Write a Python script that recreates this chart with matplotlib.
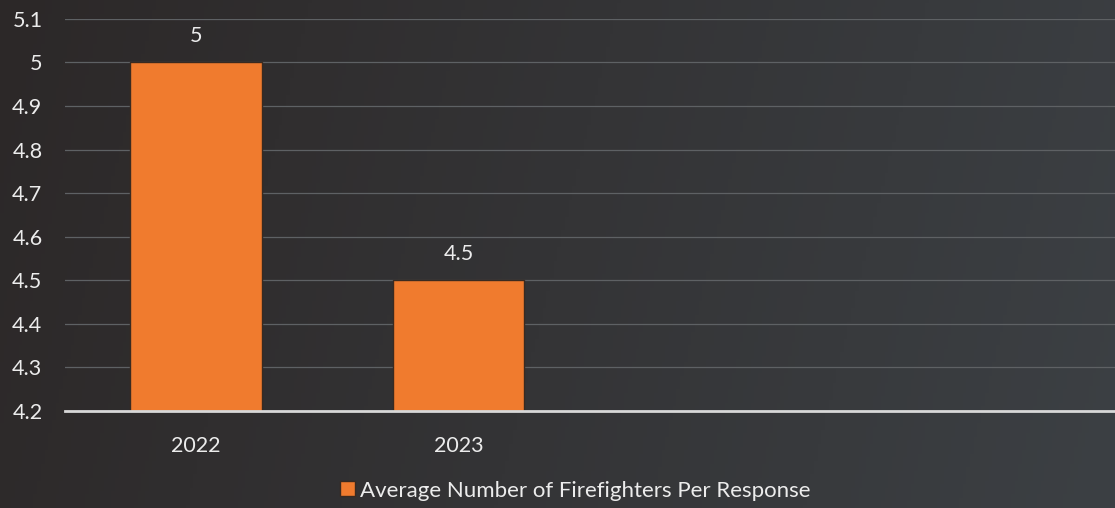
import numpy as np
import matplotlib.pyplot as plt

years = ['2022', '2023']
avg_firefighters = [5, 4.5]
value_labels = ['5', '4.5']
y_ticks = [4.2, 4.3, 4.4, 4.5, 4.6, 4.7, 4.8, 4.9, 5, 5.1]
y_tick_labels = ['4.2', '4.3', '4.4', '4.5', '4.6', '4.7', '4.8', '4.9', '5', '5.1']
series_name = 'Average Number of Firefighters Per Response'

plt.rcParams['font.family'] = ['Lato', 'DejaVu Sans']
text_col = '#ececec'
bar_col = '#f07b2e'

fig = plt.figure(figsize=(11.15, 5.08), dpi=100)

# dark slide background, a bit warmer on the left
bg = fig.add_axes([0, 0, 1, 1])
gx = np.linspace(0, 1, 300)
gy = np.linspace(0, 1, 150)
GX, GY = np.meshgrid(gx, gy)
left = np.array([0x2c, 0x28, 0x28]) / 255.0
right = np.array([0x3c, 0x40, 0x44]) / 255.0
t = np.clip(GX * 0.9 + GY * 0.1, 0, 1)[..., None]
bg.imshow(left * (1 - t) + right * t, aspect='auto', extent=[0, 1, 0, 1])
bg.axis('off')

ax = fig.add_axes([0.058, 0.191, 0.942, 0.772])
ax.set_facecolor('none')
x = np.arange(len(years))
bars = ax.bar(x, np.array(avg_firefighters) - 4.2, bottom=4.2, width=0.5,
              color=bar_col, edgecolor='#3a2a20', linewidth=1.0,
              label=series_name, zorder=3)
for b, lab in zip(bars, value_labels):
    ax.annotate(lab, (b.get_x() + b.get_width() / 2, b.get_y() + b.get_height()),
                xytext=(0, 12), textcoords='offset points', ha='center',
                va='bottom', color=text_col, fontsize=15.5)

ax.set_xlim(-0.5, 3.5)
ax.set_ylim(4.2, 5.1)
ax.set_yticks(y_ticks)
ax.set_yticklabels(y_tick_labels)
ax.set_xticks(x)
ax.set_xticklabels(years)
ax.tick_params(axis='both', length=0, colors=text_col, labelsize=15.5)
ax.tick_params(axis='x', pad=18)
ax.tick_params(axis='y', pad=16)
ax.grid(axis='y', color='#5e6164', linewidth=0.9, zorder=0)
for s in ['top', 'right', 'left']:
    ax.spines[s].set_visible(False)
ax.spines['bottom'].set_color('#d8d8d8')
ax.spines['bottom'].set_linewidth(2)
ax.spines['bottom'].set_zorder(4)

leg = fig.legend(loc='lower center', bbox_to_anchor=(0.516, -0.025), frameon=False,
                 fontsize=16, handlelength=0.65, handleheight=0.65, handletextpad=0.25)
for txt in leg.get_texts():
    txt.set_color(text_col)

fig.savefig('out.png', dpi=100)
